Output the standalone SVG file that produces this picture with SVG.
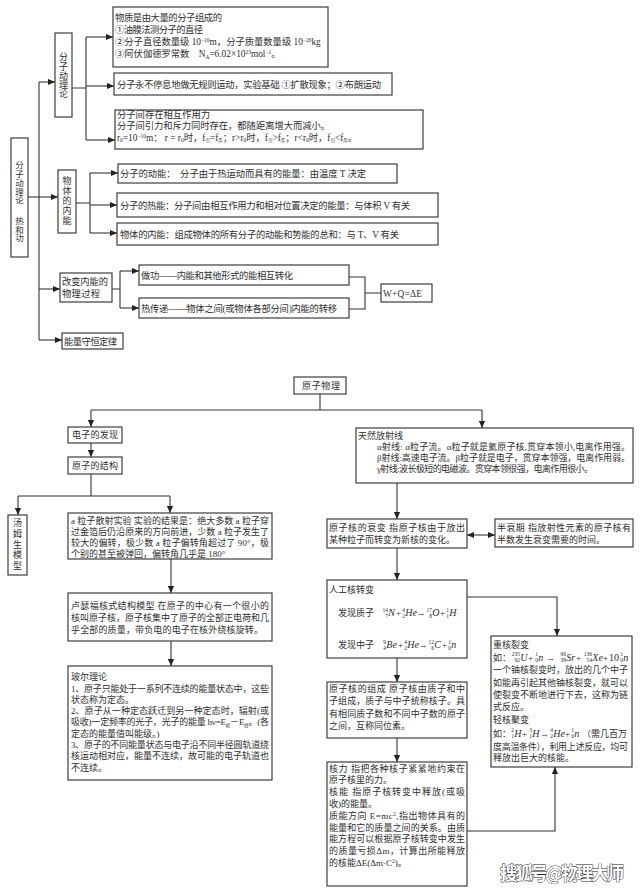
<svg xmlns="http://www.w3.org/2000/svg" width="640" height="893" viewBox="0 0 640 893">
<defs>
<style>
.b{fill:#fff;stroke:#3c3c3c;stroke-width:1.2}
.t{font-family:"Liberation Serif","Noto Sans CJK SC",serif;font-size:9px;fill:#2e2e2e}
.T{font-family:"Liberation Serif","Noto Sans CJK SC",serif;font-size:9.3px;fill:#2e2e2e}
.v{font-family:"Liberation Serif","Noto Sans CJK SC",serif;font-size:9px;fill:#2e2e2e;text-anchor:middle}
.c{fill:none;stroke:#333;stroke-width:1.1}
.e{font-family:"Liberation Serif",serif;font-size:10px;font-style:italic;fill:#2e2e2e}
.sc{font-family:"Liberation Serif",serif;font-size:5.5px;text-anchor:end;fill:#2e2e2e}
.op{font-family:"Liberation Serif","DejaVu Serif",serif;font-size:9px;fill:#2e2e2e}
.wm{font-family:"Noto Sans CJK SC",sans-serif;font-size:18px;font-weight:bold;fill:#fff;stroke:#222;stroke-width:0.9;paint-order:stroke}
.sp{font-size:5.5px}
</style>
<marker id="ar" viewBox="0 0 8 8" refX="8" refY="4" markerWidth="7" markerHeight="7" markerUnits="userSpaceOnUse" orient="auto-start-reverse"><path d="M0,0.5L8,4L0,7.5z" fill="#222"/></marker>
</defs>
<rect width="640" height="893" fill="#fff"/>

<g id="connectors">
<path class="c" d="M39,82V340"/>
<path class="c" d="M28,197H58" marker-end="url(#ar)"/>
<path class="c" d="M39,82H55" marker-end="url(#ar)"/>
<path class="c" d="M39,289H60" marker-end="url(#ar)"/>
<path class="c" d="M39,340H62" marker-end="url(#ar)"/>
<path class="c" d="M72,88H86M86,37V140"/>
<path class="c" d="M86,37H113" marker-end="url(#ar)"/>
<path class="c" d="M86,86H114" marker-end="url(#ar)"/>
<path class="c" d="M86,140H115" marker-end="url(#ar)"/>
<path class="c" d="M76,203H90M90,173V233"/>
<path class="c" d="M90,173H118" marker-end="url(#ar)"/>
<path class="c" d="M90,205H117" marker-end="url(#ar)"/>
<path class="c" d="M90,233H117" marker-end="url(#ar)"/>
<path class="c" d="M112,289H120M120,271V308"/>
<path class="c" d="M120,271H139" marker-end="url(#ar)"/>
<path class="c" d="M120,308H139" marker-end="url(#ar)"/>
<path class="c" d="M349,277H365V309H349M365,293H381"/>

<path class="c" d="M320,394V410M91,410H482"/>
<path class="c" d="M482,410V428" marker-end="url(#ar)"/>
<path class="c" d="M91,410V427" marker-end="url(#ar)"/>
<path class="c" d="M91,443V457" marker-end="url(#ar)"/>
<path class="c" d="M91,474V496M18,496H170"/>
<path class="c" d="M18,496V515" marker-end="url(#ar)"/>
<path class="c" d="M170,496V513" marker-end="url(#ar)"/>
<path class="c" d="M171,559V593" marker-end="url(#ar)"/>
<path class="c" d="M171,641V666" marker-end="url(#ar)"/>
<path class="c" d="M397,483V519" marker-end="url(#ar)"/>
<path class="c" d="M467,535H495" marker-start="url(#ar)" marker-end="url(#ar)"/>
<path class="c" d="M397,548V580" marker-end="url(#ar)"/>
<path class="c" d="M467,597H557V636" marker-end="url(#ar)"/>
<path class="c" d="M397,658V682" marker-end="url(#ar)"/>
<path class="c" d="M397,738V762" marker-end="url(#ar)"/>
<path class="c" d="M467,831H555V767" marker-end="url(#ar)"/>
</g>

<g id="n-main">
<rect class="b" x="11" y="138" width="17" height="119"/>
<text class="v" style="font-size:8.5px"><tspan x="19.5" y="168">分</tspan><tspan x="19.5" y="177">子</tspan><tspan x="19.5" y="186">动</tspan><tspan x="19.5" y="194.5">理</tspan><tspan x="19.5" y="203">论</tspan><tspan x="19.5" y="224">热</tspan><tspan x="19.5" y="232.5">和</tspan><tspan x="19.5" y="241">功</tspan></text>
</g>

<g id="n-fzdll">
<rect class="b" x="55" y="33" width="17" height="84"/>
<text class="v"><tspan x="63.5" y="60">分</tspan><tspan x="63.5" y="70">子</tspan><tspan x="63.5" y="79">动</tspan><tspan x="63.5" y="88">理</tspan><tspan x="63.5" y="97">论</tspan></text>
</g>

<g id="n-wuzhi">
<rect class="b" x="113" y="7" width="215" height="60"/>
<text class="T" x="115" y="20.5" textLength="107" lengthAdjust="spacing">物质是由大量的分子组成的</text>
<text class="T" x="115" y="32.5" textLength="88" lengthAdjust="spacing">①油膜法测分子的直径</text>
<text class="T" x="115" y="45">②分子直径数量级 10<tspan dy="-3" class="sp">−10</tspan><tspan dy="3">m，分子质量数量级 10</tspan><tspan dy="-3" class="sp">−26</tspan><tspan dy="3">kg</tspan></text>
<text class="T" x="115" y="57">③阿伏伽德罗常数　N<tspan dy="1.5" class="sp">A</tspan><tspan dy="-1.5">=6.02×10</tspan><tspan dy="-3" class="sp">23</tspan><tspan dy="3">mol</tspan><tspan dy="-3" class="sp">−1</tspan><tspan dy="3">。</tspan></text>
</g>

<g id="n-yundong">
<rect class="b" x="114" y="73" width="278" height="22"/>
<text class="T" x="117" y="87.5" textLength="264" lengthAdjust="spacing">分子永不停息地做无规则运动，实验基础 ①扩散现象；②布朗运动</text>
</g>

<g id="n-li">
<rect class="b" x="115" y="110" width="308" height="39"/>
<text class="T" x="117" y="118">分子间存在相互作用力</text>
<text class="T" x="117" y="129" textLength="213" lengthAdjust="spacing">分子间引力和斥力同时存在，都随距离增大而减小。</text>
<text class="T" x="117" y="140.5">r<tspan dy="1.5" class="sp">0</tspan><tspan dy="-1.5">=10</tspan><tspan dy="-3" class="sp">−10</tspan><tspan dy="3">m：  r = r</tspan><tspan dy="1.5" class="sp">0</tspan><tspan dy="-1.5">时，f</tspan><tspan dy="1.5" style="font-size:4.5px">引</tspan><tspan dy="-1.5">=f</tspan><tspan dy="1.5" style="font-size:4.5px">斥</tspan><tspan dy="-1.5">；r&gt;r</tspan><tspan dy="1.5" class="sp">0</tspan><tspan dy="-1.5">时，f</tspan><tspan dy="1.5" style="font-size:4.5px">引</tspan><tspan dy="-1.5">&gt;f</tspan><tspan dy="1.5" style="font-size:4.5px">斥</tspan><tspan dy="-1.5">；r&lt;r</tspan><tspan dy="1.5" class="sp">0</tspan><tspan dy="-1.5">时，f</tspan><tspan dy="1.5" style="font-size:4.5px">引</tspan><tspan dy="-1.5">&lt;f</tspan><tspan dy="1.5" style="font-size:4.5px">斥</tspan><tspan dy="-1.5">。</tspan></text>
</g>

<g id="n-neineng">
<rect class="b" x="58" y="170" width="18" height="63"/>
<text class="v"><tspan x="67" y="184">物</tspan><tspan x="67" y="194">体</tspan><tspan x="67" y="204">的</tspan><tspan x="67" y="214">内</tspan><tspan x="67" y="224">能</tspan></text>
</g>

<g id="n-dongneng">
<rect class="b" x="118" y="164" width="279" height="19"/>
<text class="T" x="120" y="177" textLength="246" lengthAdjust="spacing">分子的动能：　分子由于热运动而具有的能量：由温度 T 决定</text>
</g>
<g id="n-reneng">
<rect class="b" x="117" y="193" width="321" height="24"/>
<text class="T" x="120" y="208.5" textLength="290" lengthAdjust="spacing">分子的热能：分子间由相互作用力和相对位置决定的能量：与体积 V 有关</text>
</g>
<g id="n-wutineineng">
<rect class="b" x="117" y="223" width="321" height="22"/>
<text class="T" x="120" y="237.5" textLength="279" lengthAdjust="spacing">物体的内能：组成物体的所有分子的动能和势能的总和：与 T、V 有关</text>
</g>

<g id="n-gaibian">
<rect class="b" x="60" y="273" width="52" height="29"/>
<text class="T" x="62" y="284.5" textLength="46" lengthAdjust="spacing">改变内能的</text>
<text class="T" x="62" y="296.5" textLength="38" lengthAdjust="spacing">物理过程</text>
</g>
<g id="n-zuogong">
<rect class="b" x="139" y="265" width="210" height="20"/>
<text class="T" x="141" y="278.5" textLength="152" lengthAdjust="spacing">做功——内能和其他形式的能相互转化</text>
</g>
<g id="n-rechuandi">
<rect class="b" x="139" y="298" width="210" height="20"/>
<text class="T" x="141" y="311.5" textLength="196" lengthAdjust="spacing">热传递——物体之间(或物体各部分间)内能的转移</text>
</g>
<g id="n-wq">
<rect class="b" x="381" y="284" width="51" height="18"/>
<text class="T" x="383" y="296.5" textLength="39" lengthAdjust="spacing">W+Q=ΔE</text>
</g>
<g id="n-shouheng">
<rect class="b" x="62" y="333" width="61" height="16"/>
<text class="T" x="64" y="344.5" textLength="53" lengthAdjust="spacing">能量守恒定律</text>
</g>

<g id="n-yuanziwuli">
<rect class="b" x="294" y="377" width="52" height="17"/>
<text class="t" x="302" y="389" textLength="38" lengthAdjust="spacing">原子物理</text>
</g>

<g id="n-tianran">
<rect class="b" x="356" y="428" width="277" height="55"/>
<text class="t" x="358" y="438.5">天然放射线</text>
<text class="t" x="377" y="450" textLength="253" lengthAdjust="spacing">α射线: α粒子流。α粒子就是氦原子核,贯穿本领小,电离作用强。</text>
<text class="t" x="377" y="461" textLength="253" lengthAdjust="spacing">β射线:高速电子流。β粒子就是电子，贯穿本领强，电离作用弱。</text>
<text class="t" x="377" y="472" textLength="216" lengthAdjust="spacing">γ射线:波长极短的电磁波。贯穿本领很强，电离作用很小。</text>
</g>

<g id="n-dianzi">
<rect class="b" x="68" y="427" width="54" height="16"/>
<text class="t" x="72" y="438" textLength="46" lengthAdjust="spacing">电子的发现</text>
</g>
<g id="n-jiegou">
<rect class="b" x="68" y="457" width="54" height="17"/>
<text class="t" x="72" y="468.5" textLength="46" lengthAdjust="spacing">原子的结构</text>
</g>
<g id="n-tangmusheng">
<rect class="b" x="8" y="515" width="19" height="60"/>
<text class="v"><tspan x="17.5" y="526">汤</tspan><tspan x="17.5" y="537">姆</tspan><tspan x="17.5" y="547.5">生</tspan><tspan x="17.5" y="558">模</tspan><tspan x="17.5" y="569">型</tspan></text>
</g>
<g id="n-alpha">
<rect class="b" x="68" y="513" width="204" height="46"/>
<text class="t" x="71" y="523.5" textLength="198" lengthAdjust="spacing">a 粒子散射实验  实验的结果是：绝大多数 a 粒子穿</text>
<text class="t" x="71" y="534.5" textLength="198" lengthAdjust="spacing">过金箔后仍沿原来的方向前进，少数 a 粒子发生了</text>
<text class="t" x="71" y="545.5" textLength="198" lengthAdjust="spacing">较大的偏转，极少数 a 粒子偏转角超过了 90°，极</text>
<text class="t" x="71" y="556.5">个别的甚至被弹回，偏转角几乎是 180°</text>
</g>
<g id="n-lusefu">
<rect class="b" x="68" y="593" width="204" height="48"/>
<text class="t" x="71" y="609" textLength="198" lengthAdjust="spacing">卢瑟福核式结构模型  在原子的中心有一个很小的</text>
<text class="t" x="71" y="621" textLength="198" lengthAdjust="spacing">核叫原子核，原子核集中了原子的全部正电荷和几</text>
<text class="t" x="71" y="633" textLength="192" lengthAdjust="spacing">乎全部的质量，带负电的电子在核外绕核旋转。</text>
</g>
<g id="n-boer">
<rect class="b" x="68" y="666" width="204" height="114"/>
<text class="t" x="71" y="680.2">玻尔理论</text>
<text class="t" x="71" y="691.5" textLength="198" lengthAdjust="spacing">1、原子只能处于一系列不连续的能量状态中，这些</text>
<text class="t" x="71" y="702.8">状态称为定态。</text>
<text class="t" x="71" y="714.1" textLength="198" lengthAdjust="spacing">2、原子从一种定态跃迁到另一种定态时，辐射(或</text>
<text class="t" x="71" y="725.4" textLength="198" lengthAdjust="spacing">吸收)一定频率的光子，光子的能量 hν=E<tspan dy="1.2" style="font-size:4.5px">初</tspan><tspan dy="-1.2">－E</tspan><tspan dy="1.2" style="font-size:4.5px">终</tspan><tspan dy="-1.2">。(各</tspan></text>
<text class="t" x="71" y="736.7">定态的能量值叫能级。)</text>
<text class="t" x="71" y="748" textLength="198" lengthAdjust="spacing">3、原子的不同能量状态与电子沿不同半径圆轨道绕</text>
<text class="t" x="71" y="759.3" textLength="198" lengthAdjust="spacing">核运动相对应，能量不连续，故可能的电子轨道也</text>
<text class="t" x="71" y="770.6">不连续。</text>
</g>

<g id="n-shuaibian">
<rect class="b" x="327" y="519" width="140" height="29"/>
<text class="t" x="329" y="531" textLength="136" lengthAdjust="spacing">原子核的衰变  指原子核由于放出</text>
<text class="t" x="329" y="543">某种粒子而转变为新核的变化。</text>
</g>
<g id="n-banshuaiqi">
<rect class="b" x="495" y="519" width="138" height="28"/>
<text class="t" x="497" y="531" textLength="134" lengthAdjust="spacing">半衰期  指放射性元素的原子核有</text>
<text class="t" x="497" y="543">半数发生衰变需要的时间。</text>
</g>

<g id="n-rengong">
<rect class="b" x="327" y="580" width="140" height="78"/>
<text class="t" x="329" y="593">人工核转变</text>
<text class="t" x="338" y="616">发现质子</text>
<text class="sc" x="388" y="611.5">14</text><text class="sc" x="388" y="617.5">7</text><text class="e" x="388.3" y="616">N</text>
<text class="op" x="396" y="616">+</text>
<text class="sc" x="405" y="611.5">4</text><text class="sc" x="405" y="617.5">2</text><text class="e" x="405.3" y="616">He</text>
<text class="op" x="416.5" y="616">→</text>
<text class="sc" x="432" y="611.5">17</text><text class="sc" x="432" y="617.5">8</text><text class="e" x="432.3" y="616">O</text>
<text class="op" x="440" y="616">+</text>
<text class="sc" x="449" y="611.5">1</text><text class="sc" x="449" y="617.5">1</text><text class="e" x="449.3" y="616">H</text>
<text class="t" x="338" y="648">发现中子</text>
<text class="sc" x="386" y="643.5">9</text><text class="sc" x="386" y="649.5">4</text><text class="e" x="386.3" y="648">Be</text>
<text class="op" x="398" y="648">+</text>
<text class="sc" x="407" y="643.5">4</text><text class="sc" x="407" y="649.5">2</text><text class="e" x="407.3" y="648">He</text>
<text class="op" x="418.5" y="648">→</text>
<text class="sc" x="434" y="643.5">12</text><text class="sc" x="434" y="649.5">6</text><text class="e" x="434.3" y="648">C</text>
<text class="op" x="442" y="648">+</text>
<text class="sc" x="451" y="643.5">1</text><text class="sc" x="451" y="649.5">0</text><text class="e" x="451.3" y="648">n</text>
</g>

<g id="n-zucheng">
<rect class="b" x="327" y="682" width="140" height="56"/>
<text class="t" x="329" y="691.5" textLength="136" lengthAdjust="spacing">原子核的组成  原子核由质子和中</text>
<text class="t" x="329" y="704" textLength="136" lengthAdjust="spacing">子组成，质子与中子统称核子。具</text>
<text class="t" x="329" y="716.5" textLength="136" lengthAdjust="spacing">有相同质子数和不同中子数的原子</text>
<text class="t" x="329" y="729">之间，互称同位素。</text>
</g>

<g id="n-heli">
<rect class="b" x="327" y="762" width="140" height="124"/>
<text class="t" x="329" y="771.5" textLength="136" lengthAdjust="spacing">核力  指把各种核子紧紧地约束在</text>
<text class="t" x="329" y="783.3">原子核里的力。</text>
<text class="t" x="329" y="795.1" textLength="136" lengthAdjust="spacing">核能  指原子核转变中释放(或吸</text>
<text class="t" x="329" y="806.9">收)的能量。</text>
<text class="t" x="329" y="818.7" textLength="136" lengthAdjust="spacing">质能方向  E=mc<tspan dy="-3" class="sp">2</tspan><tspan dy="3">,指出物体具有的</tspan></text>
<text class="t" x="329" y="830.5" textLength="136" lengthAdjust="spacing">能量和它的质量之间的关系。由质</text>
<text class="t" x="329" y="842.3" textLength="136" lengthAdjust="spacing">能方程可以根据原子核转变中发生</text>
<text class="t" x="329" y="854.1" textLength="136" lengthAdjust="spacing">的质量亏损Δm，计算出所能释放</text>
<text class="t" x="329" y="865.9">的核能ΔE(Δm·C<tspan dy="-3" class="sp">2</tspan><tspan dy="3">)。</tspan></text>
</g>

<g id="n-liebian">
<rect class="b" x="491" y="636" width="141" height="131"/>
<text class="t" x="493" y="647.5">重核裂变</text>
<text class="t" x="493" y="660.5">如：</text>
<text class="sc" x="520" y="656">235</text><text class="sc" x="520" y="662">92</text><text class="e" x="520.3" y="660.5">U</text>
<text class="op" x="528" y="660.5">+</text>
<text class="sc" x="538" y="656">1</text><text class="sc" x="538" y="662">0</text><text class="e" x="538.3" y="660.5">n</text>
<text class="op" x="546" y="660.5">→</text>
<text class="sc" x="566" y="656">90</text><text class="sc" x="566" y="662">38</text><text class="e" x="566.3" y="660.5">Sr</text>
<text class="op" x="576" y="660.5">+</text>
<text class="sc" x="592" y="656">136</text><text class="sc" x="592" y="662">54</text><text class="e" x="592.3" y="660.5">Xe</text>
<text class="op" x="603" y="660.5">+</text>
<text class="e" x="609" y="660.5" style="font-style:normal">10</text>
<text class="sc" x="623" y="656">1</text><text class="sc" x="623" y="662">0</text><text class="e" x="623.3" y="660.5">n</text>
<text class="t" x="493" y="673" textLength="135" lengthAdjust="spacing">一个铀核裂变时，放出的几个中子</text>
<text class="t" x="493" y="686" textLength="135" lengthAdjust="spacing">如能再引起其他铀核裂变，就可以</text>
<text class="t" x="493" y="697.5" textLength="135" lengthAdjust="spacing">使裂变不断地进行下去，这称为链</text>
<text class="t" x="493" y="710">式反应。</text>
<text class="t" x="493" y="723">轻核聚变</text>
<text class="t" x="493" y="736.5">如：</text>
<text class="sc" x="514" y="732">2</text><text class="sc" x="514" y="738">1</text><text class="e" x="514.3" y="736.5">H</text>
<text class="op" x="522" y="736.5">+</text>
<text class="sc" x="532" y="732">3</text><text class="sc" x="532" y="738">1</text><text class="e" x="532.3" y="736.5">H</text>
<text class="op" x="540" y="736.5">→</text>
<text class="sc" x="553" y="732">4</text><text class="sc" x="553" y="738">2</text><text class="e" x="553.3" y="736.5">He</text>
<text class="op" x="565" y="736.5">+</text>
<text class="sc" x="574" y="732">1</text><text class="sc" x="574" y="738">0</text><text class="e" x="574.3" y="736.5">n</text>
<text class="t" x="582" y="736.5">（需几百万</text>
<text class="t" x="493" y="749.5" textLength="135" lengthAdjust="spacing">度高温条件），利用上述反应，均可</text>
<text class="t" x="493" y="761">释放出巨大的核能。</text>
</g>

<text class="wm" x="500" y="880" textLength="124" lengthAdjust="spacing">搜狐号@物理大师</text>
</svg>
